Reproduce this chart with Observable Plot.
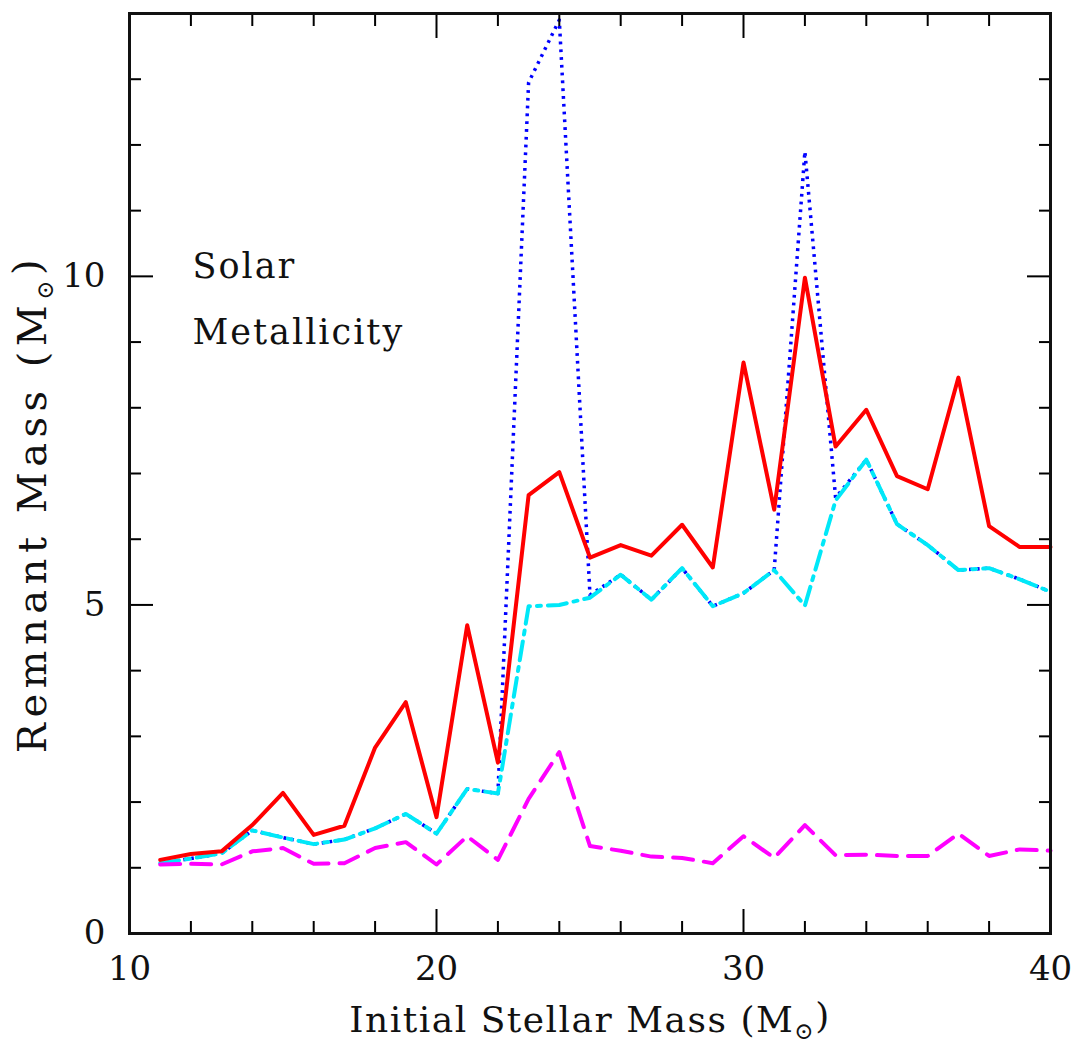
<!DOCTYPE html>
<html>
<head>
<meta charset="utf-8">
<script src="https://cdn.jsdelivr.net/npm/d3@7"></script>
<script src="https://cdn.jsdelivr.net/npm/@observablehq/plot@0.6"></script>
<style>
  body { margin: 0; background: #fff; }
  #chart svg { display: block; background: #fff; }
</style>
</head>
<body>
<div id="chart"></div>
<script>
// Initial stellar masses (Msun)
const masses = [11, 12, 13, 14, 15, 16, 17, 18, 19, 20, 21, 22, 23, 24, 25, 26, 27, 28, 29, 30, 31, 32, 33, 34, 35, 36, 37, 38, 39, 40];
// Remnant masses for four models
const redSolid = [1.12, 1.21, 1.25, 1.65, 2.14, 1.50, 1.64, 2.83, 3.52, 1.77, 4.69, 2.60, 6.67, 7.02, 5.72, 5.91, 5.75, 6.22, 5.57, 8.69, 6.45, 9.98, 7.41, 7.97, 6.96, 6.76, 8.46, 6.20, 5.88, 5.88];
const blueDotted = [1.07, 1.14, 1.22, 1.57, 1.46, 1.36, 1.43, 1.60, 1.82, 1.52, 2.20, 2.13, 12.95, 13.9, 5.15, 5.46, 5.08, 5.56, 4.98, 5.18, 5.53, 11.9, 6.63, 7.21, 6.23, 5.91, 5.53, 5.56, 5.39, 5.20];
const cyanDashDot = [1.07, 1.14, 1.22, 1.57, 1.46, 1.36, 1.43, 1.60, 1.82, 1.52, 2.20, 2.13, 4.98, 5.00, 5.11, 5.46, 5.08, 5.56, 4.98, 5.18, 5.53, 4.99, 6.59, 7.21, 6.23, 5.91, 5.53, 5.56, 5.39, 5.20];
const magentaDashed = [1.05, 1.06, 1.05, 1.25, 1.30, 1.06, 1.07, 1.30, 1.39, 1.05, 1.48, 1.12, 2.05, 2.76, 1.33, 1.26, 1.17, 1.15, 1.07, 1.48, 1.15, 1.65, 1.19, 1.20, 1.18, 1.18, 1.52, 1.18, 1.28, 1.26];

// Axis ticks and labels
const xMajorTicks = [10, 20, 30, 40];
const xMinorTicks = [12, 14, 16, 18, 22, 24, 26, 28, 32, 34, 36, 38];
const yMajorTicks = [0, 5, 10];
const yMinorTicks = [1, 2, 3, 4, 6, 7, 8, 9, 11, 12, 13];
const xLabel = "Initial Stellar Mass (M⊙)";
const yLabel = "Remnant Mass (M⊙)";
const annotation = ["Solar", "Metallicity"];

const toRows = (vals) => masses.map((m, i) => ({mass: m, remnant: vals[i]}));

const font = "DejaVu Serif";

const chart = Plot.plot({
  width: 1076,
  height: 1043,
  marginLeft: 129,
  marginRight: 26,
  marginTop: 13,
  marginBottom: 110,
  x: {domain: [10, 40]},
  y: {domain: [0, 14]},
  style: {fontFamily: font, background: "#fff"},
  marks: [
    // data lines
    Plot.line(toRows(blueDotted), {x: "mass", y: "remnant", stroke: "#0000ff", strokeWidth: 3.5, strokeDasharray: "2.8,5", strokeLinecap: "butt"}),
    Plot.line(toRows(cyanDashDot), {x: "mass", y: "remnant", stroke: "#00e8f8", strokeWidth: 4, strokeDasharray: "19,7,4,7"}),
    Plot.line(toRows(magentaDashed), {x: "mass", y: "remnant", stroke: "#ff00ff", strokeWidth: 4, strokeDasharray: "20,11"}),
    Plot.line(toRows(redSolid), {x: "mass", y: "remnant", stroke: "#ff0000", strokeWidth: 4}),
    // bottom axis: major ticks + labels
    Plot.axisX({anchor: "bottom", ticks: xMajorTicks, tickSize: -24, tickPadding: 46, strokeWidth: 2, fontSize: 34, fontFamily: font, fill: "#111", label: null, tickFormat: d => String(d)}),
    Plot.axisX({anchor: "bottom", ticks: xMinorTicks, tickSize: -12, strokeWidth: 2, fill: "none", label: null}),
    // top mirrored ticks
    Plot.axisX({anchor: "top", ticks: xMajorTicks, tickSize: -24, strokeWidth: 2, fill: "none", label: null}),
    Plot.axisX({anchor: "top", ticks: xMinorTicks, tickSize: -12, strokeWidth: 2, fill: "none", label: null}),
    // left axis
    Plot.axisY({anchor: "left", ticks: yMajorTicks, tickSize: -24, tickPadding: 48, strokeWidth: 2, fontSize: 34, fontFamily: font, fill: "#111", label: null, tickFormat: d => String(d)}),
    Plot.axisY({anchor: "left", ticks: yMinorTicks, tickSize: -12, strokeWidth: 2, fill: "none", label: null}),
    // right mirrored ticks
    Plot.axisY({anchor: "right", ticks: yMajorTicks, tickSize: -24, strokeWidth: 2, fill: "none", label: null}),
    Plot.axisY({anchor: "right", ticks: yMinorTicks, tickSize: -12, strokeWidth: 2, fill: "none", label: null}),
    Plot.frame({stroke: "#111", strokeWidth: 3}),
    // annotation
    Plot.text([annotation[0]], {frameAnchor: "top-left", dx: 63, dy: 253, text: d => d, textAnchor: "start", lineAnchor: "middle", fontSize: 35, fontFamily: font, fill: "#111"}),
    Plot.text([annotation[1]], {frameAnchor: "top-left", dx: 63, dy: 319, text: d => d, textAnchor: "start", lineAnchor: "middle", fontSize: 35, fontFamily: font, fill: "#111"}),
    // axis titles
    Plot.text([xLabel], {frameAnchor: "bottom", dy: 87, text: d => d, textAnchor: "middle", lineAnchor: "middle", fontSize: 36, fontFamily: font, fill: "#111"}),
    Plot.text([yLabel], {frameAnchor: "left", dx: -96, dy: 30, rotate: -90, text: d => d, textAnchor: "middle", lineAnchor: "middle", fontSize: 40, fontFamily: font, fill: "#111"})
  ]
});

document.getElementById("chart").appendChild(chart);

// Post-process: letter spacing and subscript solar symbol
const svg = d3.select(chart);
svg.selectAll("text").each(function() {
  const t = d3.select(this);
  const s = this.textContent;
  if (annotation.includes(s)) t.style("letter-spacing", "2px");
  if (s === xLabel || s === yLabel) {
    t.style("letter-spacing", s === yLabel ? "5.5px" : "1.5px");
    const base = s.slice(0, s.indexOf("⊙"));
    t.text(null);
    t.append("tspan").text(base);
    t.append("tspan").attr("font-size", "23").attr("dy", "0.3em").text("⊙");
    t.append("tspan").attr("dy", "-0.3em").text(")");
  }
});
</script>
</body>
</html>
